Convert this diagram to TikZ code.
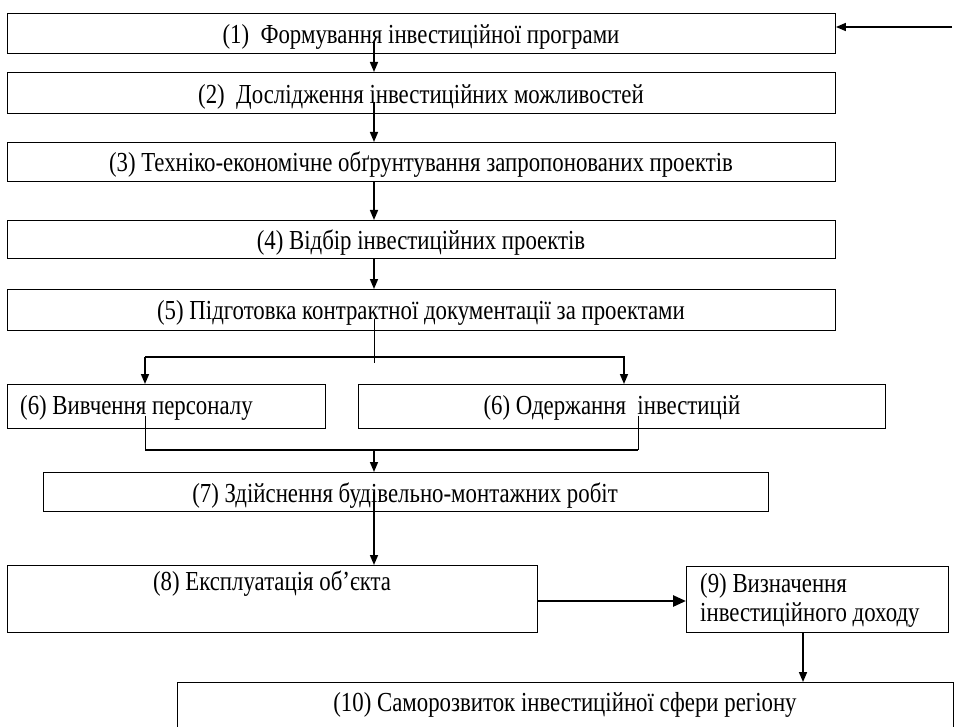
\documentclass[tikz,border=0pt]{standalone}
\usepackage{fontspec}
\setmainfont[FakeStretch=0.83]{Liberation Serif}
\usetikzlibrary{arrows.meta}
\tikzset{
  box/.style={draw, line width=0.9pt, rectangle, inner sep=0pt, anchor=north west},
  txt/.style={inner sep=0pt, font=\fontsize{27.5}{29}\selectfont},
  arr/.style={line width=1.6pt, -{Triangle[length=10pt,width=8pt]}},
  bigarr/.style={line width=2.6pt, -{Triangle[length=13pt,width=11pt]}},
  thinline/.style={line width=0.8pt},
  joinline/.style={line width=1.6pt}
}
\begin{document}
\begin{tikzpicture}[x=1pt,y=-1pt]
\useasboundingbox (0,0) rectangle (957,727);
% boxes
\node[box, minimum width=828, minimum height=40] (b1) at (7,13) {};
\node[box, minimum width=828, minimum height=41] (b2) at (7,72) {};
\node[box, minimum width=828, minimum height=39] (b3) at (7,142) {};
\node[box, minimum width=828, minimum height=38] (b4) at (7,220) {};
\node[box, minimum width=828, minimum height=41] (b5) at (7,289) {};
\node[box, minimum width=318, minimum height=44] (b6a) at (7,384) {};
\node[box, minimum width=527, minimum height=44] (b6b) at (358,384) {};
\node[box, minimum width=725, minimum height=39] (b7) at (43,472) {};
\node[box, minimum width=530, minimum height=67] (b8) at (7,565) {};
\node[box, minimum width=262, minimum height=66] (b9) at (686,566) {};
\node[box, minimum width=776, minimum height=70] (b10) at (177,682) {};
% texts
\node[txt, anchor=base] (t1) at (421,44) {(1)\ \ Формування інвестиційної програми};
\node[txt, anchor=base] (t2) at (421,104) {(2)\ \ Дослідження інвестиційних можливостей};
\node[txt, anchor=base] (t3) at (421,172) {(3) Техніко-економічне обґрунтування запропонованих проектів};
\node[txt, anchor=base] (t4) at (421,249) {(4) Відбір інвестиційних проектів};
\node[txt, anchor=base] (t5) at (421,319) {(5) Підготовка контрактної документації за проектами};
\node[txt, anchor=base west] (t6a) at (20,414) {(6) Вивчення персоналу};
\node[txt, anchor=base] (t6b) at (612,414) {(6) Одержання\ \ інвестицій};
\node[txt, anchor=base] (t7) at (405,502) {(7) Здійснення будівельно-монтажних робіт};
\node[txt, anchor=base] (t8) at (272,590) {(8) Експлуатація об’єкта};
\node[txt, anchor=base west] (t9a) at (700,592) {(9) Визначення};
\node[txt, anchor=base west] (t9b) at (700,621) {інвестиційного доходу};
\node[txt, anchor=base] (t10) at (565,711) {(10) Саморозвиток інвестиційної сфери регіону};
% helper coordinates
\coordinate (ax) at (374,0);
\coordinate (inA) at (952,27);
\coordinate (sL) at (145,357);
\coordinate (sR) at (624,357);
\coordinate (jL) at (145,450);
\coordinate (jR) at (638,450);
\coordinate (j9) at (803,0);
\coordinate (y89) at (0,601);
% connectors
\draw[arr] (inA) -- (inA -| b1.east);
\draw[arr] (b1.south -| ax) ++(0,-12) -- (b2.north -| ax);
\draw[arr] (b2.south -| ax) ++(0,-12) -- (b3.north -| ax);
\draw[arr] (b3.south -| ax) -- (b4.north -| ax);
\draw[arr] (b4.south -| ax) -- (b5.north -| ax);
\draw[thinline] (b5.south -| ax) ++(0,-12) -- ++(0,44);
\draw[arr] (sL) -- (sR) -- (b6b.north -| sR);
\draw[arr] (sL) -- (b6a.north -| sL);
\draw[thinline] (b6a.south -| jL) ++(0,-13) -- (jL);
\draw[thinline] (b6b.south -| jR) ++(0,-13) -- (jR);
\draw[joinline] (jL) -- (jR);
\draw[arr] (jL -| ax) -- (b7.north -| ax);
\draw[arr] (b7.south -| ax) ++(0,-20) -- (b8.north -| ax);
\draw[bigarr] (b8.east |- y89) -- (b9.west |- y89);
\draw[arr] (b9.south -| j9) -- (b10.north -| j9);
\end{tikzpicture}
\end{document}
